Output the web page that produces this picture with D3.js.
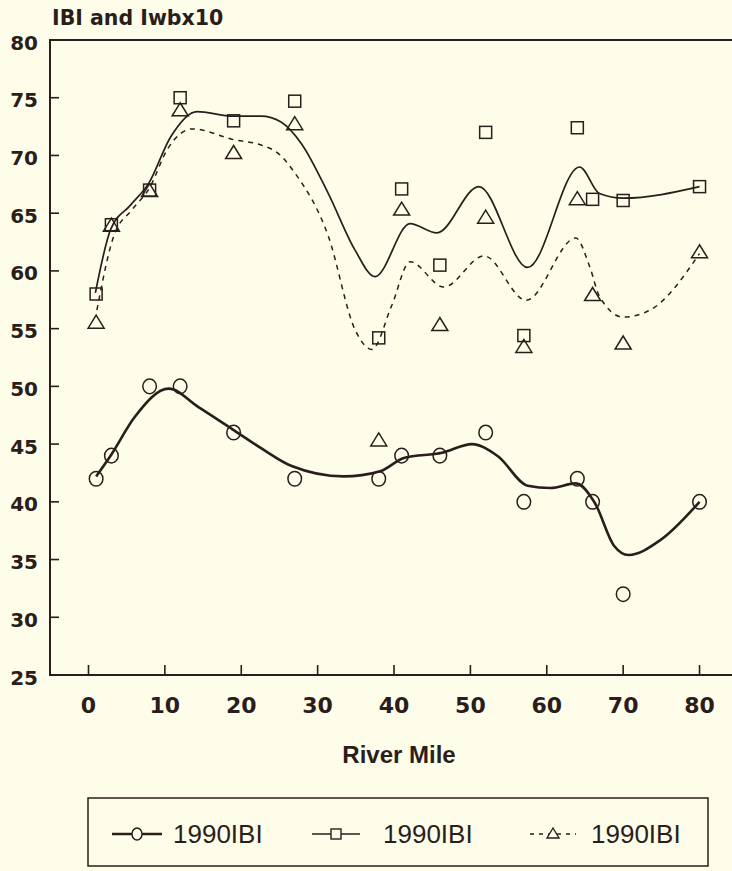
<!DOCTYPE html>
<html lang="en">
<head>
  <meta charset="utf-8">
  <title>IBI and Iwbx10</title>
  <script src="https://d3js.org/d3.v7.min.js"></script>
</head>
<style>
body { margin: 0; background: #fdfde9; }
.tick-label { font-family: "DejaVu Sans", sans-serif; font-weight: bold; font-size: 20px; fill: #2b1d1b; }
.axis-title { font-family: "DejaVu Sans", sans-serif; font-weight: bold; font-size: 20.5px; fill: #2b1d1b; }
.x-title { font-family: "Liberation Sans", Arial, sans-serif; font-weight: bold; font-size: 24px; fill: #2b1d1b; }
.legend-label { font-family: "Liberation Sans", Arial, sans-serif; font-size: 26px; fill: #2b1d1b; }
</style>
<body>
<div class="chart"></div>
<script>
// river miles where samples were taken
var miles = [1, 3, 8, 12, 19, 27, 38, 41, 46, 52, 57, 64, 66, 70, 80];
// series values (circle / square / triangle markers)
var circleVals = [42, 44, 50, 50, 46, 42, 42, 44, 44, 46, 40, 42, 40, 32, 40];
var squareVals = [58, 64, 67, 75, 73, 74.7, 54.2, 67.1, 60.5, 72, 54.4, 72.4, 66.2, 66.1, 67.3];
var triangleVals = [55.6, 64, 67, 74, 70.3, 72.8, 45.4, 65.4, 55.4, 64.7, 53.5, 66.3, 58, 53.8, 61.7];

// smoothed curves
var circleFitMiles = [1, 3, 6, 10.5, 14.4, 18.8, 22.7, 26.6, 33.4, 38.2, 41.3, 46.3, 50.2, 53.6, 57.5, 60.5, 63.8, 66.3, 68.8, 70.7, 74.9, 80];
var circleFit = [42.2, 44.1, 47.3, 49.8, 48.2, 46.3, 44.6, 43.1, 42.2, 42.65, 43.8, 44.25, 45.0, 43.95, 41.4, 41.2, 41.6, 39.9, 36.2, 35.4, 36.7, 40];
var squareFitMiles = [0.9, 2.9, 5.5, 7.9, 10.75, 14.2, 18.9, 22.6, 25.2, 27.9, 31.4, 34.9, 37.5, 42.1, 45.6, 51.1, 57.5, 64.3, 66.9, 70, 80];
var squareFit = [58.1, 63.6, 65.7, 67.6, 71.6, 73.8, 73.4, 73.4, 72.9, 71, 66.7, 61.8, 59.5, 64.1, 63.3, 67.3, 60.3, 69.0, 66.7, 66.3, 67.3];
var triangleFitMiles = [1.1, 3.3, 5.7, 8, 10.3, 13.6, 19.1, 22.6, 24.8, 27, 31.4, 34.9, 37.1, 39.7, 42.1, 46.5, 51.8, 57.3, 63.8, 65.6, 66.9, 70, 73.5, 80];
var triangleFit = [56.6, 63, 65.3, 67.2, 70.5, 72.3, 71.35, 70.9, 70.2, 68.5, 63, 54.9, 53.2, 57, 60.8, 58.6, 61.3, 57.45, 62.85, 60.4, 57.8, 56.0, 56.6, 61.5];

var xTicks = [0, 10, 20, 30, 40, 50, 60, 70, 80];
var yTicks = [25, 30, 35, 40, 45, 50, 55, 60, 65, 70, 75, 80];
var legendLabels = ["1990IBI", "1990IBI", "1990IBI"];

var width = 732, height = 871;
var ink = "#2b1d1b";
var plot = {left: 50, right: 732, top: 40, bottom: 675};

var svg = d3.select(".chart").append("svg")
  .attr("width", width)
  .attr("height", height);

svg.append("rect").attr("width", width).attr("height", height).attr("fill", "#fdfde9");

var x = d3.scaleLinear().domain([-5.04, 84.25]).range([plot.left, plot.right]);
var y = d3.scaleLinear().domain([25, 80]).range([plot.bottom, plot.top]);

// frame: left axis, top rule, bottom axis
svg.append("path")
  .attr("d", "M" + plot.right + "," + plot.top + "H" + plot.left + "V" + plot.bottom + "H" + plot.right)
  .attr("fill", "none").attr("stroke", ink).attr("stroke-width", 2);

// y ticks (inward) + labels
svg.selectAll(".ytick").data(yTicks.filter(function(d){ return d > 25 && d < 80; }))
  .enter().append("line")
  .attr("x1", plot.left).attr("x2", plot.left + 9)
  .attr("y1", function(d){ return y(d); }).attr("y2", function(d){ return y(d); })
  .attr("stroke", ink).attr("stroke-width", 1.6);
svg.selectAll(".ylab").data(yTicks)
  .enter().append("text")
  .attr("class", "tick-label")
  .attr("text-anchor", "end")
  .attr("x", 38)
  .attr("y", function(d){ return y(d) + 9.5; })
  .text(function(d){ return d; });

// x ticks (upward) + labels
svg.selectAll(".xtick").data(xTicks)
  .enter().append("line")
  .attr("x1", function(d){ return x(d); }).attr("x2", function(d){ return x(d); })
  .attr("y1", plot.bottom).attr("y2", plot.bottom - 10)
  .attr("stroke", ink).attr("stroke-width", 1.6);
svg.selectAll(".xlab").data(xTicks)
  .enter().append("text")
  .attr("class", "tick-label")
  .attr("text-anchor", "middle")
  .style("font-size", "22px")
  .attr("x", function(d){ return x(d); })
  .attr("y", 713)
  .text(function(d){ return d; });

svg.append("text").attr("class", "axis-title").attr("x", 52).attr("y", 25).text("IBI and Iwbx10");
svg.append("text").attr("class", "x-title").attr("text-anchor", "middle").attr("x", 399).attr("y", 763).text("River Mile");

// smoothed curves
var line = d3.line()
  .x(function(d){ return x(d[0]); })
  .y(function(d){ return y(d[1]); })
  .curve(d3.curveMonotoneX);

svg.append("path").datum(d3.zip(squareFitMiles, squareFit))
  .attr("d", line).attr("fill", "none").attr("stroke", ink).attr("stroke-width", 1.7);
svg.append("path").datum(d3.zip(triangleFitMiles, triangleFit))
  .attr("d", line).attr("fill", "none").attr("stroke", ink).attr("stroke-width", 1.5)
  .attr("stroke-dasharray", "5,5");
svg.append("path").datum(d3.zip(circleFitMiles, circleFit))
  .attr("d", line).attr("fill", "none").attr("stroke", ink).attr("stroke-width", 2.6);

// markers
function triPath(cx, cy, w, h) {
  return "M" + cx + "," + (cy - h / 2) + "L" + (cx - w / 2) + "," + (cy + h / 2) + "L" + (cx + w / 2) + "," + (cy + h / 2) + "Z";
}

svg.selectAll(".circ").data(d3.zip(miles, circleVals))
  .enter().append("ellipse")
  .attr("cx", function(d){ return x(d[0]); })
  .attr("cy", function(d){ return y(d[1]); })
  .attr("rx", 6.8).attr("ry", 7.3)
  .attr("fill", "none").attr("stroke", ink).attr("stroke-width", 1.5);

svg.selectAll(".sq").data(d3.zip(miles, squareVals))
  .enter().append("rect")
  .attr("x", function(d){ return x(d[0]) - 6; })
  .attr("y", function(d){ return y(d[1]) - 6; })
  .attr("width", 12).attr("height", 12)
  .attr("fill", "none").attr("stroke", ink).attr("stroke-width", 1.5);

svg.selectAll(".tri").data(d3.zip(miles, triangleVals))
  .enter().append("path")
  .attr("d", function(d){ return triPath(x(d[0]), y(d[1]), 16, 13); })
  .attr("fill", "none").attr("stroke", ink).attr("stroke-width", 1.5);

// legend
var lg = svg.append("g");
lg.append("rect").attr("x", 88).attr("y", 798).attr("width", 620).attr("height", 68)
  .attr("fill", "none").attr("stroke", ink).attr("stroke-width", 1.5);

var legendItems = [
  {x1: 112, x2: 162, text: 173, dash: null, sw: 2.4, kind: "circle"},
  {x1: 312, x2: 360, text: 383, dash: null, sw: 1.6, kind: "square"},
  {x1: 530, x2: 576, text: 591, dash: "4,5", sw: 1.5, kind: "triangle"}
];
var ly = 834;
legendItems.forEach(function(it, i) {
  var cx = (it.x1 + it.x2) / 2;
  lg.append("line").attr("x1", it.x1).attr("x2", it.x2).attr("y1", ly).attr("y2", ly)
    .attr("stroke", ink).attr("stroke-width", it.sw).attr("stroke-dasharray", it.dash);
  if (it.kind === "circle") {
    lg.append("ellipse").attr("cx", cx).attr("cy", ly).attr("rx", 5).attr("ry", 6)
      .attr("fill", "#fdfde9").attr("stroke", ink).attr("stroke-width", 1.4);
  } else if (it.kind === "square") {
    lg.append("rect").attr("x", cx - 5).attr("y", ly - 5).attr("width", 10).attr("height", 10)
      .attr("fill", "#fdfde9").attr("stroke", ink).attr("stroke-width", 1.4);
  } else {
    lg.append("path").attr("d", triPath(cx, ly - 1, 12, 10))
      .attr("fill", "#fdfde9").attr("stroke", ink).attr("stroke-width", 1.4);
  }
  lg.append("text").attr("class", "legend-label").attr("x", it.text).attr("y", 843).text(legendLabels[i]);
});
</script>
</body>
</html>
